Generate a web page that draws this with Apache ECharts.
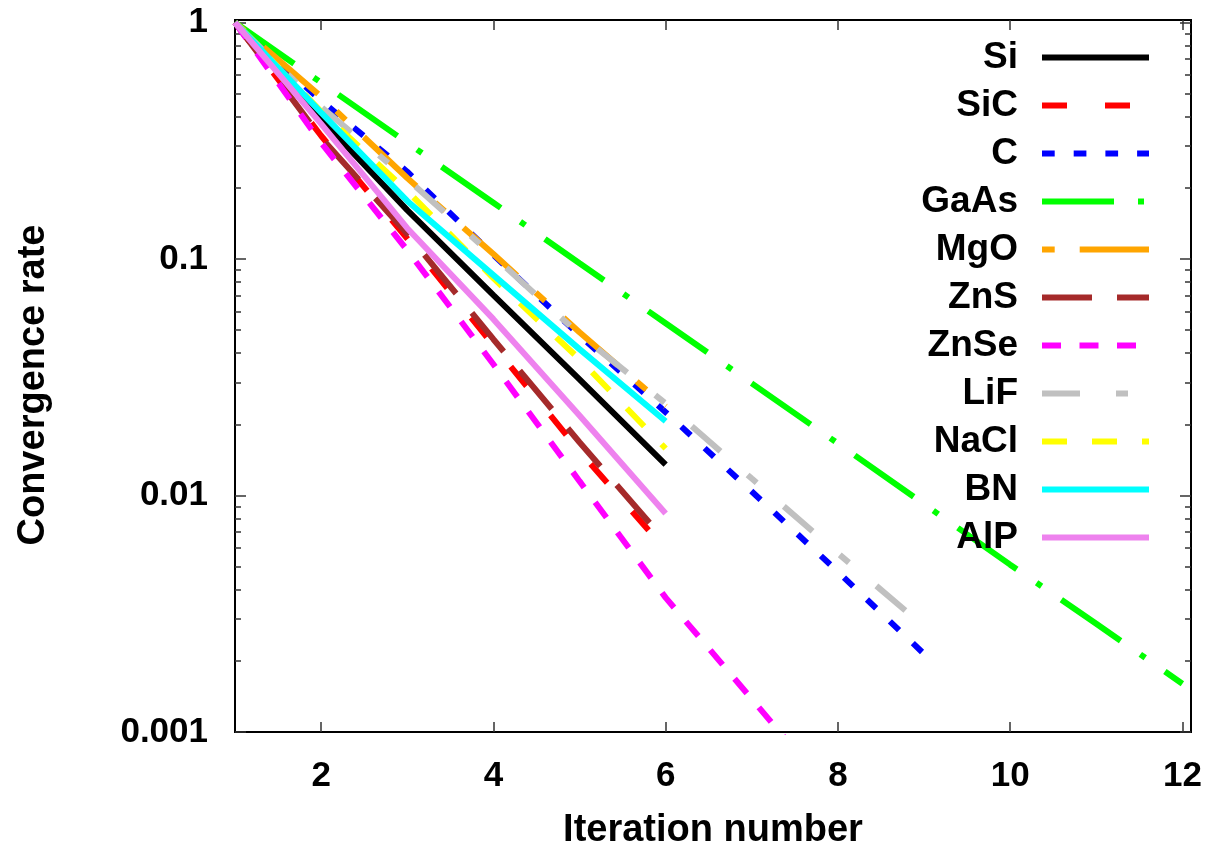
<!DOCTYPE html>
<html>
<head>
<meta charset="utf-8">
<script src="https://cdn.jsdelivr.net/npm/echarts@6/dist/echarts.min.js"></script>
<style>
html, body { margin: 0; padding: 0; background: #fff; }
#convChart { width: 1213px; height: 846px; }
</style>
</head>
<body>
<div id="convChart"></div>
<script>
// iteration index (x) and convergence rate per material (y, log scale)
var iterations = [1, 2, 3, 4, 5, 6, 7, 8, 9, 10, 11, 12];

var si   = [1, 0.39, 0.161, 0.0704, 0.031, 0.0135];
var sic  = [1, 0.332, 0.122, 0.0432, 0.0154, 0.0059];
var c    = [1, 0.467, 0.234, 0.104, 0.0476, 0.0225, 0.0104, 0.00476, 0.00214];
var gaas = [1, 0.557, 0.31, 0.173, 0.096, 0.0535, 0.0298, 0.0166, 0.0092, 0.0051, 0.00287, 0.0016];
var mgo  = [1, 0.486, 0.22, 0.105, 0.049, 0.0238];
var zns  = [1, 0.326, 0.128, 0.0458, 0.0168, 0.0064];
var znse = [1, 0.31, 0.109, 0.0359, 0.0115, 0.0037, 0.00138, 0.00051];
var lif  = [1, 0.44, 0.218, 0.103, 0.048, 0.0245, 0.0118, 0.0057, 0.0028];
var nacl = [1, 0.42, 0.194, 0.083, 0.0377, 0.0158];
var bn   = [1, 0.416, 0.176, 0.0855, 0.0416, 0.0206];
var alp  = [1, 0.373, 0.135, 0.0557, 0.0218, 0.0084];

var names  = ['Si', 'SiC', 'C', 'GaAs', 'MgO', 'ZnS', 'ZnSe', 'LiF', 'NaCl', 'BN', 'AlP'];
var values = [si, sic, c, gaas, mgo, zns, znse, lif, nacl, bn, alp];

var xTicks  = [2, 4, 6, 8, 10, 12];
var yMajor  = [0.001, 0.01, 0.1, 1];
var yMinor  = [0.002, 0.003, 0.004, 0.005, 0.006, 0.007, 0.008, 0.009,
               0.02, 0.03, 0.04, 0.05, 0.06, 0.07, 0.08, 0.09,
               0.2, 0.3, 0.4, 0.5, 0.6, 0.7, 0.8, 0.9];

var colors = ['#000000', '#ff0000', '#0000ff', '#00ff00', '#ffa500', '#a52a2a',
              '#ff00ff', '#c0c0c0', '#ffff00', '#00ffff', '#ee82ee'];
var dashes = ['solid', [25, 38], [12.7, 19], [72, 24, 6, 24], [12.7, 25, 72, 25], [50, 25],
              [19, 18.5], [38, 36, 12, 36], [25, 25], 'solid', 'solid'];

var FONT = '"Liberation Sans", Arial, Helvetica, sans-serif';

function draw_convergence_chart(){
    if (typeof (echarts) === 'undefined') { return; }

    var chart = echarts.init(document.getElementById('convChart'));

    var series = [];
    for (var i = 0; i < names.length; i++) {
        var pts = [];
        for (var j = 0; j < values[i].length; j++) {
            pts.push([iterations[j], values[i][j]]);
        }
        series.push({
            name: names[i],
            type: 'line',
            data: pts,
            symbol: 'none',
            showSymbol: false,
            clip: true,
            xAxisIndex: 0,
            yAxisIndex: 0,
            itemStyle: { color: colors[i] },
            lineStyle: { color: colors[i], width: 6, type: dashes[i] }
        });
    }

    var tickStyle = { color: '#333', width: 1.5 };
    var labelFont = { fontFamily: FONT, fontWeight: 'bold', fontSize: 35, color: '#000' };

    function yAxisDef(pos, ticks, len, withLabels){
        var ax = {
            type: 'log',
            logBase: 10,
            min: 0.001,
            max: 1.025,
            position: pos,
            axisLine: { show: false },
            splitLine: { show: false },
            axisTick: { show: true, inside: true, length: len, customValues: ticks, lineStyle: tickStyle },
            axisLabel: { show: false }
        };
        if (withLabels) {
            ax.axisLabel = Object.assign({
                show: true,
                margin: 27,
                customValues: yMajor,
                formatter: function (v) { return String(+v.toPrecision(3)); }
            }, labelFont);
            ax.name = 'Convergence rate';
            ax.nameLocation = 'middle';
            ax.nameGap = 182;
            ax.nameRotate = 90;
            ax.nameTextStyle = {
                fontFamily: FONT, fontWeight: 'bold', fontSize: 38, color: '#000',
                padding: [0, 18, 0, 0]
            };
        }
        return ax;
    }

    chart.setOption({
        animation: false,
        backgroundColor: '#fff',
        grid: {
            left: 235,
            top: 20,
            width: 956,
            height: 712,
            show: true,
            borderColor: '#000',
            borderWidth: 2,
            backgroundColor: 'transparent',
            outerBoundsMode: 'none'
        },
        legend: {
            data: names,
            orient: 'vertical',
            align: 'right',
            right: 56,
            top: 34,
            itemWidth: 107,
            itemHeight: 14,
            itemGap: 11,
            selectedMode: false,
            itemStyle: { opacity: 0 },
            lineStyle: { width: 6 },
            textStyle: {
                fontFamily: FONT,
                fontWeight: 'bold',
                fontSize: 37,
                color: '#000',
                padding: [0, 19, 0, 0]
            }
        },
        xAxis: [{
            type: 'value',
            min: 1,
            max: 12.1,
            position: 'bottom',
            axisLine: { show: false },
            splitLine: { show: false },
            axisTick: { show: true, inside: true, length: 10, customValues: xTicks, lineStyle: tickStyle },
            axisLabel: Object.assign({ margin: 27, customValues: xTicks }, labelFont),
            name: 'Iteration number',
            nameLocation: 'middle',
            nameGap: 80,
            nameTextStyle: { fontFamily: FONT, fontWeight: 'bold', fontSize: 38, color: '#000' }
        }, {
            type: 'value',
            min: 1,
            max: 12.1,
            position: 'top',
            axisLine: { show: false },
            splitLine: { show: false },
            axisTick: { show: true, inside: true, length: 10, customValues: xTicks, lineStyle: tickStyle },
            axisLabel: { show: false }
        }],
        yAxis: [
            yAxisDef('left', yMajor, 11, true),
            yAxisDef('left', yMinor, 6, false),
            yAxisDef('right', yMajor, 11, false),
            yAxisDef('right', yMinor, 6, false)
        ],
        series: series
    });
}

draw_convergence_chart();
</script>
</body>
</html>
